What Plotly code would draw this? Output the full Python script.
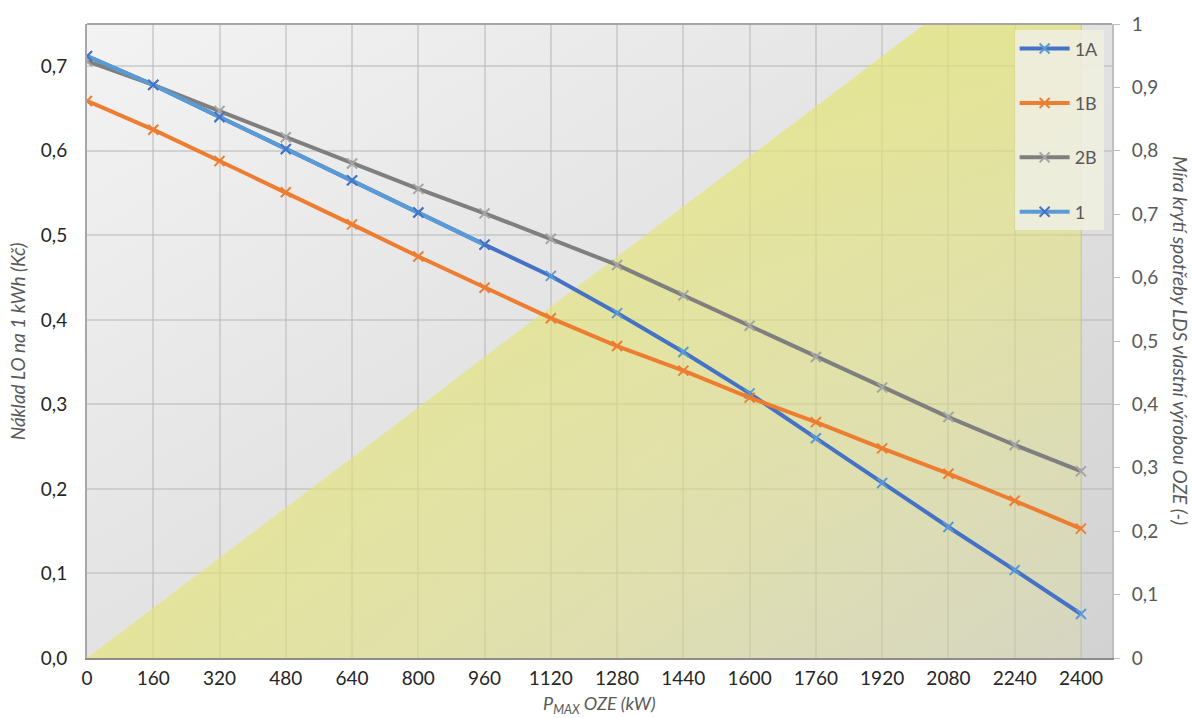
import base64
import plotly.graph_objects as go

# ---------------- data ----------------
p_max = [0, 160, 320, 480, 640, 800, 960, 1120, 1280, 1440, 1600, 1760, 1920, 2080, 2240, 2400]
x_ticks = p_max

s_1A = [0.712, 0.678, 0.640, 0.602, 0.565, 0.527, 0.489, 0.452, 0.408, 0.362,
        0.313, 0.260, 0.207, 0.155, 0.104, 0.052]
s_1B = [0.659, 0.625, 0.588, 0.551, 0.513, 0.475, 0.438, 0.402, 0.369, 0.340,
        0.308, 0.279, 0.248, 0.218, 0.186, 0.153]
s_2B = [0.706, 0.678, 0.647, 0.616, 0.585, 0.555, 0.526, 0.496, 0.465, 0.429,
        0.393, 0.356, 0.320, 0.285, 0.252, 0.221]
p_max_1 = [0, 160, 320, 480, 640, 800, 960]
s_1 = [0.712, 0.678, 0.640, 0.602, 0.565, 0.527, 0.489]

# coverage ratio (secondary scale, area)
coverage = [0.0, 0.079, 0.158, 0.237, 0.316, 0.395, 0.475, 0.554, 0.633, 0.712,
            0.791, 0.870, 0.949, 1.028, 1.107, 1.186]

FONT = "Lato"
GREY_TXT = "#595959"

fig = go.Figure()

# yellow coverage area (on base axis 'y', right side) - two overlaid gradient fills
fig.add_trace(go.Scatter(
    x=p_max, y=coverage, yaxis="y", mode="none", fill="tozeroy",
    fillgradient=dict(type="horizontal", start=0, stop=2400,
                      colorscale=[[0, "rgba(228,228,112,0.60)"], [1, "rgba(228,228,112,0.12)"]]),
    showlegend=False, hoverinfo="skip"))
fig.add_trace(go.Scatter(
    x=p_max, y=coverage, yaxis="y", mode="none", fill="tozeroy",
    fillgradient=dict(type="vertical", start=0, stop=1,
                      colorscale=[[0, "rgba(228,228,112,0.05)"], [1, "rgba(228,228,112,0.62)"]]),
    showlegend=False, hoverinfo="skip"))

def line_trace(x, y, name, lc, mc, group):
    return go.Scatter(
        x=x, y=y, name=name, mode="lines+markers", legendgroup=group, yaxis="y2",
        line=dict(color=lc, width=4),
        marker=dict(symbol="x-thin", size=10, color=mc, line=dict(color=mc, width=2)))

fig.add_trace(line_trace(p_max, s_1A, "1A", "#4472C4", "#5B9BD5", "g1"))
fig.add_trace(line_trace(p_max, s_1B, "1B", "#ED7D31", "#ED7D31", "g2"))
fig.add_trace(line_trace(p_max, s_2B, "2B", "#7F7F7F", "#A5A5A5", "g3"))
fig.add_trace(line_trace(p_max_1, s_1, "1", "#5B9BD5", "#4472C4", "g4"))

# background diagonal gradient for the plot area
svg = ("<svg xmlns='http://www.w3.org/2000/svg' width='100' height='100' viewBox='0 0 100 100' "
       "preserveAspectRatio='none'><defs><linearGradient id='g' x1='0' y1='0' x2='1' y2='1'>"
       "<stop offset='0' stop-color='#F3F3F3'/><stop offset='1' stop-color='#D2D2D2'/>"
       "</linearGradient></defs><rect width='100' height='100' fill='url(#g)'/></svg>")
svg_uri = "data:image/svg+xml;base64," + base64.b64encode(svg.encode()).decode()

GRID = "rgba(185,185,185,0.55)"

fig.update_layout(
    width=1192, height=718,
    margin=dict(l=87, r=80, t=20, b=60),
    paper_bgcolor="white",
    plot_bgcolor="rgba(0,0,0,0)",
    separators=", ",
    font=dict(family=FONT, size=19, color="#262626"),
    images=[dict(source=svg_uri, xref="paper", yref="paper", x=0, y=1,
                 sizex=1, sizey=1, sizing="stretch", layer="below",
                 xanchor="left", yanchor="top")],
    xaxis=dict(
        range=[0, 2475], tickvals=x_ticks, ticktext=[str(v) for v in x_ticks],
        showgrid=True, gridcolor=GRID, gridwidth=2,
        zeroline=False, showline=True, linecolor="#8C8C8C", linewidth=2,
        mirror=False, ticks="", ticklabelstandoff=2,
        tickfont=dict(family=FONT, size=19, color="#262626")),
    # coverage axis (right)
    yaxis=dict(
        range=[0, 1], dtick=0.1, tick0=0, side="right",
        showgrid=False, zeroline=False, showline=True, linecolor="#BFBFBF", linewidth=2,
        ticks="outside", ticklen=6, tickcolor="#BFBFBF", ticklabelstandoff=8,
        tickfont=dict(family=FONT, size=19, color=GREY_TXT)),
    # cost axis (left), overlaid so its lines draw above the area
    yaxis2=dict(
        range=[0, 0.75], dtick=0.1, tick0=0, tickformat=".1f", side="left",
        overlaying="y",
        showgrid=True, gridcolor=GRID, gridwidth=2,
        zeroline=False, showline=True, linecolor="#A6A6A6", linewidth=2,
        ticks="", ticklabelstandoff=14,
        tickfont=dict(family=FONT, size=19, color="#262626")),
    legend=dict(
        x=0.905, y=0.99, xanchor="left", yanchor="top",
        bgcolor="rgba(238,238,224,0.92)", borderwidth=0,
        font=dict(family=FONT, size=18, color=GREY_TXT),
        tracegroupgap=28, itemwidth=50),
    shapes=[dict(type="line", xref="paper", yref="paper", x0=0, x1=1, y0=1, y1=1,
                 line=dict(color="#A6A6A6", width=2))],
    annotations=[
        dict(text="<i>P<sub>MAX</sub> OZE (kW)</i>", xref="paper", yref="paper",
             x=0.5, y=-0.074, xanchor="center", yanchor="middle", showarrow=False,
             font=dict(family=FONT, size=18, color=GREY_TXT)),
        dict(text="<i>Náklad LO na 1 kWh (Kč)</i>", xref="paper", yref="paper",
             x=-0.068, y=0.5, xanchor="center", yanchor="middle", showarrow=False,
             textangle=-90, font=dict(family=FONT, size=19, color=GREY_TXT)),
        dict(text="<i>Míra krytí spotřeby LDS vlastní výrobou OZE (-)</i>", xref="paper",
             yref="paper", x=1.0673, y=0.5, xanchor="center", yanchor="middle",
             showarrow=False, textangle=90,
             font=dict(family=FONT, size=19, color=GREY_TXT)),
    ],
)

fig.write_html("out.html")
